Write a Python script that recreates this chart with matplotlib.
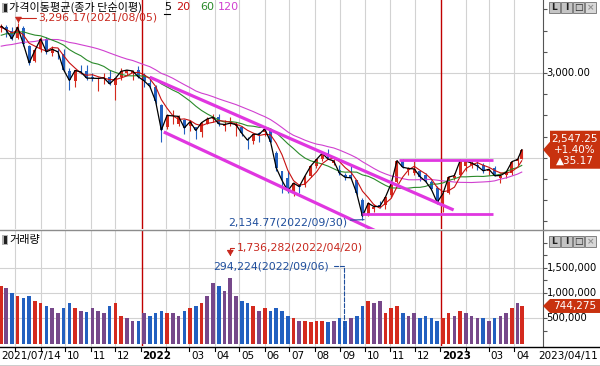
import numpy as np
import pandas as pd
import matplotlib
matplotlib.use("Agg")
import matplotlib.pyplot as plt
import matplotlib.dates as mdates
from matplotlib.patches import Polygon, Rectangle
from matplotlib.lines import Line2D
from matplotlib.transforms import blended_transform_factory

plt.rcParams['font.family'] = ['Noto Sans CJK KR', 'DejaVu Sans']
NUM = ['DejaVu Sans']

# KOSPI weekly candles 2021/07/14 - 2023/04/11
week_mid = (pd.to_datetime(['2021-07-15'])
            .append(pd.date_range('2021-07-21', '2023-04-05', freq='7D'))
            .append(pd.to_datetime(['2023-04-10'])))

w_open = [3265, 3270, 3250, 3205, 3265, 3160, 3070, 3140, 3200, 3120, 3130, 3115, 3010, 2950, 3010, 3010, 2975, 2965, 2970, 2975, 2930, 2975, 3000, 3000, 3015,
          2990, 2940, 2920, 2810, 2680, 2745, 2700, 2720, 2690, 2680, 2650, 2700, 2730, 2740, 2690, 2700, 2690, 2680, 2610, 2600, 2645, 2650, 2660, 2530, 2420, 2380,
          2300, 2340, 2340, 2390, 2450, 2495, 2530, 2470, 2430, 2400, 2400, 2370, 2250, 2160, 2200, 2220, 2220, 2280, 2355, 2480, 2430, 2410, 2420, 2400, 2355, 2320,
          2225, 2290, 2380, 2400, 2450, 2460, 2460, 2455, 2420, 2440, 2380, 2400, 2410, 2480, 2495]
w_high = [3292, 3285, 3270, 3296.17, 3275, 3165, 3145, 3210, 3210, 3160, 3145, 3140, 3030, 3020, 3050, 3050, 3000, 2975, 3000, 3020, 2970, 3030, 3020, 3020, 3040,
          3000, 2980, 2930, 2820, 2760, 2780, 2750, 2730, 2720, 2680, 2710, 2740, 2760, 2760, 2720, 2740, 2710, 2690, 2620, 2640, 2650, 2690, 2670, 2540, 2420, 2420,
          2355, 2345, 2400, 2455, 2490, 2530, 2550, 2495, 2460, 2410, 2450, 2370, 2260, 2240, 2230, 2245, 2275, 2350, 2485, 2490, 2445, 2480, 2425, 2410, 2370, 2335,
          2295, 2390, 2410, 2490, 2485, 2480, 2480, 2470, 2440, 2450, 2410, 2420, 2480, 2510, 2550]
w_low = [3240, 3215, 3195, 3200, 3160, 3050, 3065, 3125, 3110, 3100, 3080, 3010, 2901, 2920, 2995, 2960, 2955, 2895, 2935, 2930, 2839, 2960, 2990, 2960, 2970,
         2920, 2910, 2820, 2591, 2670, 2700, 2690, 2640, 2660, 2610, 2620, 2700, 2710, 2690, 2660, 2690, 2630, 2630, 2550, 2580, 2590, 2630, 2590, 2420, 2291, 2290,
         2276, 2290, 2330, 2385, 2440, 2480, 2490, 2460, 2400, 2370, 2375, 2280, 2134.77, 2155, 2180, 2205, 2200, 2270, 2350, 2440, 2400, 2400, 2360, 2355, 2310, 2230,
         2180, 2285, 2370, 2395, 2420, 2440, 2430, 2410, 2400, 2390, 2350, 2380, 2400, 2460, 2490]
w_close = [3276, 3254, 3202, 3270, 3171, 3060, 3133, 3201, 3125, 3140, 3125, 3019, 2956, 3015, 3006, 2970, 2969, 2968, 2971, 2936, 2968, 3010, 3017, 3012, 2977,
           2954, 2921, 2834, 2663, 2750, 2747, 2744, 2676, 2713, 2661, 2707, 2729, 2739, 2700, 2696, 2704, 2695, 2644, 2604, 2639, 2638, 2670, 2595, 2440, 2366, 2305,
           2350, 2330, 2393, 2451, 2490, 2527, 2492, 2481, 2409, 2384, 2382, 2290, 2155, 2232, 2212, 2213, 2268, 2348, 2483, 2444, 2437, 2434, 2389, 2360, 2313, 2236,
           2289, 2386, 2395, 2484, 2480, 2469, 2451, 2423, 2432, 2394, 2395, 2414, 2477, 2490, 2547.25]
# average daily volume of each week (last one = today's volume)
w_volume = [1150000, 1100000, 1000000, 950000, 900000, 950000, 850000, 800000, 750000, 700000, 600000, 700000, 800000, 700000, 650000, 620000, 700000, 650000,
            600000, 750000, 800000, 550000, 500000, 450000, 450000,
            600000, 550000, 600000, 650000, 600000, 600000, 550000, 650000, 700000, 750000, 800000, 950000, 1200000, 1150000, 1050000, 1300000, 950000, 850000,
            800000, 750000, 650000, 700000, 650000, 700000, 650000, 550000, 500000, 450000, 450000, 420000, 450000, 450000, 420000, 450000, 500000, 450000, 500000,
            550000, 750000, 850000, 800000, 850000, 600000, 700000, 750000, 600000, 550000, 600000, 500000, 550000, 500000, 450000,
            500000, 600000, 550000, 650000, 600000, 550000, 500000, 500000, 450000, 500000, 550000, 600000, 700000, 800000, 744275]

# weekly closes before the visible range (for the moving averages)
pre_close = [3152, 3085, 3140, 2976, 3120, 3100, 3107, 3013, 3026, 3054, 3039, 3041, 3112, 3131, 3198, 3186, 3147, 3197, 3153, 3156, 3188, 3240, 3249, 3267,
             3302, 3281, 3217]
prev_close = 2512.08

high_day, low_day = '2021-08-05', '2022-09-30'
vol_max_day, vol_max = '2022-04-20', 1736282
vol_min_day, vol_min = '2022-09-06', 294224

channel_upper = (['2022-01-12', '2023-01-17'], [2975, 2192])
channel_lower = (['2022-01-29', '2022-10-17'], [2652, 2062])
box_top = (['2022-11-11', '2023-03-06'], [2487, 2487])
box_bottom = (['2022-09-28', '2023-03-06'], [2168, 2168])
year_lines = ['2022-01-03', '2023-01-02']
price_ticks = [3000, 2500]
volume_ticks = [500000, 1000000, 1500000]
start_label, end_label = '2021/07/14', '2023/04/11'

RED = '#d42a1e'
BLUE = '#2260c0'
PURPLE = '#76488a'
TXT_RED = '#c8281e'
TXT_BLUE = '#1f4e9c'
MAGENTA = '#e036e0'

W, H = 600, 366
fig = plt.figure(figsize=(6, 3.66), dpi=100)


def frame(x0, y0, x1, y1):
    return [x0 / W, 1 - y1 / H, (x1 - x0) / W, (y1 - y0) / H]


ax = fig.add_axes(frame(0, 0, 543, 229))
axv = fig.add_axes(frame(0, 230, 543, 346), sharex=ax)

left = mdates.date2num(pd.Timestamp('2021-07-13 12:00'))
ax.set_xlim(left, left + 543 / 0.821)
ax.set_ylim(2079.6, 3430.7)
axv.set_ylim(-49000, 2225000)

xd = mdates.date2num(week_mid)
o, h, l, c = (np.array(v, dtype=float) for v in (w_open, w_high, w_low, w_close))
vol = np.array(w_volume, dtype=float)

months = pd.date_range('2021-08-01', '2023-04-01', freq='MS')
for a in (ax, axv):
    for m in months:
        if m.month != 1:
            a.axvline(m, color='#d2d2d2', lw=0.8, zorder=0)
    for yl in year_lines:
        a.axvline(pd.Timestamp(yl), color='#c00000', lw=1.0, zorder=1)
for yv in price_ticks:
    ax.axhline(yv, color='#d2d2d2', lw=0.8, zorder=0)
for yv in volume_ticks:
    axv.axhline(yv, color='#d2d2d2', lw=0.8, zorder=0)

# candles
col = np.where(c >= o, RED, BLUE)
ax.vlines(xd, l, h, colors=col, lw=0.8, zorder=3)
ax.bar(xd, np.maximum(np.abs(c - o), 4), bottom=np.minimum(o, c), width=3.6, color=col, zorder=3)

# moving averages (5/20/60/120 days ~ 1/4/12/24 weeks)
all_close = pd.Series(pre_close + w_close, dtype=float)
n = len(w_close)
for win, color, lw in [(24, '#d040d0', 0.8), (12, '#2a8a2a', 0.8), (4, '#c81010', 0.8), (1, 'black', 0.9)]:
    ma = all_close.rolling(win).mean().values[-n:]
    ax.plot(xd, ma, color=color, lw=lw, zorder=4)

for seg, lw in [(channel_upper, 2.3), (channel_lower, 2.3), (box_top, 2.0), (box_bottom, 2.0)]:
    ax.plot(pd.to_datetime(seg[0]), seg[1], color=MAGENTA, lw=lw, zorder=5, solid_capstyle='butt')

# volume: red = up week, blue = down week, purple = mixed week
chg = c / np.concatenate([[pre_close[-1]], c[:-1]]) - 1
vcol = np.where(chg > 0.01, RED, np.where(chg < -0.01, BLUE, PURPLE))
axv.bar(xd, vol, width=4.4, color=vcol, zorder=3)

# axes styling
for a in (ax, axv):
    a.yaxis.tick_right()
    a.tick_params(axis='y', which='both', direction='out', length=3, width=0.8, color='#555555', labelright=False)
    a.tick_params(axis='x', which='both', length=0, labelbottom=False)
    for s in ('top', 'left', 'bottom'):
        a.spines[s].set_visible(False)
    a.spines['right'].set_color('#555555')
    a.patch.set_alpha(0)
ax.set_yticks(price_ticks)
ax.set_yticks(np.arange(2125, 3400, 125), minor=True)
axv.set_yticks(volume_ticks)
axv.set_yticks(np.arange(250000, 2250001, 250000), minor=True)

# right-axis labels (2,500.00 sits under the price tag)
for a, ticks, fmt in [(ax, price_ticks[:1], '{:,.2f}'), (axv, volume_ticks, '{:,}')]:
    ytr = blended_transform_factory(fig.transFigure, a.transData)
    for t in ticks:
        a.text(546.5 / W, t, fmt.format(t), transform=ytr, fontsize=7.2, family=NUM, ha='left', va='center', clip_on=False)

# frame lines
fig.add_artist(Line2D([0, 1], [1 - 229.5 / H] * 2, color='#8c8c8c', lw=1))
fig.add_artist(Line2D([0, 1], [1 - 346.5 / H] * 2, color='black', lw=1))
fig.add_artist(Line2D([0, 1], [1 - 365.5 / H] * 2, color='black', lw=1))

# date axis
tr = blended_transform_factory(axv.transData, fig.transFigure)
hidden = ['2021-08', '2021-09', '2022-02', '2023-02']
for m in months:
    axv.add_artist(Line2D([mdates.date2num(m)] * 2, [1 - 346.5 / H, 1 - 351 / H], transform=tr, color='black', lw=0.8, clip_on=False))
    if m.strftime('%Y-%m') in hidden:
        continue
    if m.month == 1:
        txt, fw = str(m.year), 'bold'
    else:
        txt, fw = f'{m.month:02d}', 'normal'
    axv.text(mdates.date2num(m) + 2.0, 1 - 356 / H, txt, transform=tr, ha='left', va='center', fontsize=7.5,
             fontweight=fw, family=NUM, clip_on=False)
fig.text(1 / W, 1 - 356 / H, start_label, ha='left', va='center', fontsize=7.5, family=NUM)
fig.text(538 / W, 1 - 356 / H, end_label, ha='left', va='center', fontsize=7.5, family=NUM)

# titles
for ytop in (3, 235):
    fig.add_artist(Rectangle((2 / W, 1 - (ytop + 10) / H), 6 / W, 10 / H, transform=fig.transFigure, fc='#b4b4b4', ec='none'))
    fig.add_artist(Rectangle((3.5 / W, 1 - (ytop + 9) / H), 3 / W, 8 / H, transform=fig.transFigure, fc='#202020', ec='none'))
fig.text(9 / W, 1 - 7.5 / H, '가격이동평균(종가 단순이평)', ha='left', va='center', fontsize=8)
fig.text(164 / W, 1 - 7.5 / H, '5', ha='left', va='center', fontsize=8, family=NUM, color='black')
fig.add_artist(Line2D([164 / W, 170 / W], [1 - 13.5 / H] * 2, color='black', lw=0.8))
fig.text(176 / W, 1 - 7.5 / H, '20', ha='left', va='center', fontsize=8, family=NUM, color='#c81010')
fig.text(200 / W, 1 - 7.5 / H, '60', ha='left', va='center', fontsize=8, family=NUM, color='#2a8a2a')
fig.text(218 / W, 1 - 7.5 / H, '120', ha='left', va='center', fontsize=8, family=NUM, color='#d040d0')
fig.text(9 / W, 1 - 240 / H, '거래량', ha='left', va='center', fontsize=8)


def buttons(ytop):
    for i, ch in enumerate(['L', 'I', '□', '×']):
        x = 549 + i * 12
        fig.add_artist(Rectangle((x / W, 1 - (ytop + 11) / H), 11 / W, 11 / H, transform=fig.transFigure,
                                 fc='#c4c4c4' if i < 3 else '#d8d8d8', ec='#707070', lw=0.6))
        fig.text((x + 5.5) / W, 1 - (ytop + 5.8) / H, ch, ha='center', va='center', fontsize=6.5, family=NUM,
                 fontweight='bold', color='#202020' if i < 3 else '#909090')


buttons(2)
buttons(236)

# high / low markers
arrow_head = dict(arrowstyle='-|>,head_length=0.4,head_width=0.25', mutation_scale=8, lw=0.8, shrinkA=0, shrinkB=0,
                  connectionstyle='angle,angleA=0,angleB=90,rad=0')
hi_x = mdates.date2num(pd.Timestamp(high_day))
ax.annotate(f'{h.max():,.2f}({high_day.replace("-", "/")})', xy=(hi_x, h.max()), xytext=(14.5, 3.6),
            textcoords='offset points', ha='left', va='center', fontsize=7.8, family=NUM, color=TXT_RED,
            arrowprops=dict(color=TXT_RED, **arrow_head), zorder=6)
lo_x = mdates.date2num(pd.Timestamp(low_day))
ax.annotate(f'{l.min():,.2f}({low_day.replace("-", "/")})', xy=(lo_x, l.min()), xytext=(-12.0, -1.8),
            textcoords='offset points', ha='right', va='center', fontsize=7.8, family=NUM, color=TXT_BLUE,
            arrowprops=dict(arrowstyle='-', color=TXT_BLUE, lw=0.8, shrinkA=0, shrinkB=0), annotation_clip=False, zorder=6)
axv.annotate(f'{vol_max:,}({vol_max_day.replace("-", "/")})', xy=(mdates.date2num(pd.Timestamp(vol_max_day)), vol_max),
             xytext=(5.0, 5.8), textcoords='offset points', ha='left', va='center', fontsize=7.8, family=NUM, color=TXT_RED,
             arrowprops=dict(color=TXT_RED, **arrow_head), zorder=6)
axv.annotate(f'{vol_min:,}({vol_min_day.replace("-", "/")})', xy=(mdates.date2num(pd.Timestamp(vol_min_day)), vol_min),
             xytext=(-10.8, 45.0), textcoords='offset points', ha='right', va='center', fontsize=7.8, family=NUM, color=TXT_BLUE,
             arrowprops=dict(arrowstyle='-', color=TXT_BLUE, lw=0.8, ls='--', shrinkA=1, shrinkB=0,
                             connectionstyle='angle,angleA=0,angleB=90,rad=0'), zorder=6)

# current value tags on the right axis
yc = H - ax.transData.transform((xd[-1], c[-1]))[1]
yv = H - axv.transData.transform((xd[-1], vol[-1]))[1]


def tag(pts, color='#c8320f'):
    fig.add_artist(Polygon([(x / W, 1 - y / H) for x, y in pts], closed=True, transform=fig.transFigure,
                           fc=color, ec='none', zorder=10))


tag([(543, yc), (550, yc - 8), (550, yc - 19), (600, yc - 19), (600, yc + 19), (550, yc + 19), (550, yc + 8)])
diff = c[-1] - prev_close
for dy, txt in [(-11, f'{c[-1]:,.2f}'), (0, f'+{diff / prev_close * 100:.2f}%'), (11, f'▲{diff:.2f}')]:
    fig.text(575 / W, 1 - (yc + dy) / H, txt, ha='center', va='center', fontsize=7.5, family=NUM, color='white', zorder=11)
tag([(543, yv), (550, yv - 7), (600, yv - 7), (600, yv + 7), (550, yv + 7)])
fig.text(575 / W, 1 - yv / H, f'{int(vol[-1]):,}', ha='center', va='center', fontsize=7.5, family=NUM, color='white', zorder=11)

fig.savefig('out.png', dpi=100, facecolor='white')
